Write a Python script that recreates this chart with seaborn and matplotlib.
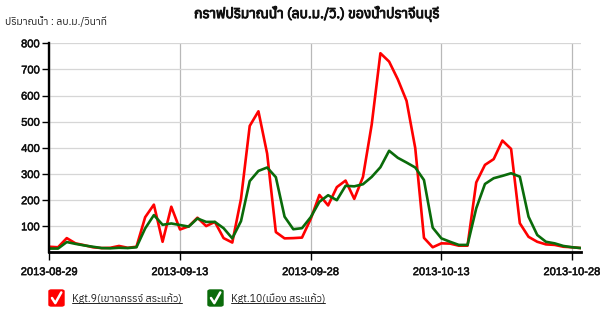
import matplotlib
matplotlib.use("Agg")
import numpy as np
import pandas as pd
import seaborn as sns
import matplotlib.pyplot as plt
from matplotlib import font_manager
from matplotlib.ft2font import FT2Font
from matplotlib.lines import Line2D
from matplotlib.patches import FancyBboxPatch
import matplotlib.patheffects as pe

# ---------------- data ----------------
start_date = "2013-08-29"
n_days = 62
kgt9 = [22, 20, 55, 35, 28, 20, 17, 18, 25, 18,
        22, 135, 183, 41, 175, 88, 100, 133, 101, 117,
        55, 38, 205, 484, 540, 378, 78, 54, 55, 57,
        128, 220, 180, 250, 275, 205, 289, 489, 762, 730,
        662, 580, 399, 56, 20, 35, 34, 26, 26, 268,
        335, 357, 428, 396, 112, 60, 41, 31, 29, 22,
        20, 17]
kgt10 = [15, 15, 40, 33, 27, 22, 17, 16, 18, 17,
         20, 92, 143, 106, 111, 105, 99, 130, 117, 117,
         93, 54, 120, 273, 312, 325, 288, 137, 89, 93,
         135, 194, 219, 200, 255, 253, 261, 289, 326, 389,
         362, 344, 325, 277, 95, 54, 41, 29, 29, 169,
         262, 284, 293, 303, 290, 137, 67, 41, 35, 25,
         20, 17]
series_names = ["Kgt.9(เขาฉกรรจ์ สระแก้ว)", "Kgt.10(เมือง สระแก้ว)"]
series_colors = ["#ff0000", "#0a6b0a"]
x_tick_labels = ["2013-08-29", "2013-09-13", "2013-09-28", "2013-10-13", "2013-10-28"]
y_ticks = [100, 200, 300, 400, 500, 600, 700, 800]
title_text = "กราฟปริมาณน้ำ (ลบ.ม./วิ.) ของน้ำปราจีนบุรี"
ylabel_text = "ปริมาณน้ำ : ลบ.ม./วินาที"

dates = pd.date_range(start_date, periods=n_days, freq="D")
df = pd.concat([
    pd.DataFrame({"date": dates, "flow": kgt9, "station": series_names[0]}),
    pd.DataFrame({"date": dates, "flow": kgt10, "station": series_names[1]}),
])


def find_thai_font():
    cands = []
    for f in font_manager.fontManager.ttflist:
        try:
            cm = FT2Font(f.fname).get_charmap()
        except Exception:
            continue
        if 0x0E01 in cm and 0x0E49 in cm:
            score = 0
            n = f.name.lower()
            if "serif" in n and "sans" not in n:
                score += 5
            if "mono" in n:
                score += 3
            cands.append((score, f.name))
    cands.sort()
    return cands[0][1] if cands else "DejaVu Sans"


sns.set_theme(style="white")
thai = find_thai_font()
plt.rcParams["font.family"] = [thai, "Liberation Sans", "DejaVu Sans"]
tick_font = ["Liberation Sans", "DejaVu Sans"]

fig = plt.figure(figsize=(6.0, 3.13), dpi=100)
ax = fig.add_axes([0.0822, 0.1933, 0.8858, 0.6684])

sns.lineplot(data=df, x="date", y="flow", hue="station",
             palette=series_colors, linewidth=1.9, legend=False, ax=ax)

ax.set_xlim(dates[0], dates[-1])
ax.set_ylim(0, 800)
ax.set_yticks(y_ticks)
ax.set_yticklabels([str(v) for v in y_ticks], family=tick_font, fontsize=8)
xt = pd.to_datetime(x_tick_labels)
ax.set_xticks(xt)
ax.set_xticklabels(x_tick_labels, family=tick_font, fontsize=8)
ax.set_xlabel("")
ax.set_ylabel("")

ax.grid(True, axis="y", color="#d6d6d6", linewidth=0.9)
ax.grid(True, axis="x", color="#b8b8b8", linewidth=0.9)
ax.set_axisbelow(True)
for s in ["top", "right"]:
    ax.spines[s].set_visible(False)
ax.spines["left"].set_linewidth(1.7)
ax.spines["bottom"].set_linewidth(2.0)
ax.spines["left"].set_color("black")
ax.spines["bottom"].set_color("black")
ax.tick_params(axis="y", direction="out", length=5, width=1, pad=2, left=True, colors="black")
ax.tick_params(axis="x", direction="out", length=5.5, width=1, pad=5, bottom=True, colors="black")
for lbl in ax.get_xticklabels() + ax.get_yticklabels():
    lbl.set_color("#111111")
    lbl.set_path_effects([pe.withStroke(linewidth=0.35, foreground="#111111")])

fig.text(0.527, 0.955, title_text, ha="center", va="center", fontsize=10,
         fontweight="bold", color="#111111",
         path_effects=[pe.withStroke(linewidth=0.7, foreground="#111111")])
fig.text(0.009, 0.93, ylabel_text, ha="left", va="center", fontsize=7.5, color="#222222")

# legend (check boxes)
box_w, box_h = 15 / 600, 16 / 313
legend_x = [49 / 600, 208 / 600]
legend_y = 1 - 306 / 313
for i, (name, col) in enumerate(zip(series_names, series_colors)):
    x0 = legend_x[i]
    fig.add_artist(FancyBboxPatch((x0, legend_y), box_w, box_h,
                                  boxstyle="round,pad=0,rounding_size=0.004",
                                  transform=fig.transFigure, facecolor=col,
                                  edgecolor=col))
    cx = [x0 + box_w * 0.2, x0 + box_w * 0.42, x0 + box_w * 0.82]
    cy = [legend_y + box_h * 0.5, legend_y + box_h * 0.18, legend_y + box_h * 0.85]
    fig.add_artist(Line2D(cx, cy, transform=fig.transFigure, color="white",
                          linewidth=1.8, solid_capstyle="round", solid_joinstyle="round"))
    t = fig.text(x0 + box_w + 8 / 600, legend_y + box_h * 0.45, name,
                 ha="left", va="center", fontsize=7.5, color="#222222")
    fig.canvas.draw()
    bb = t.get_window_extent().transformed(fig.transFigure.inverted())
    fig.add_artist(Line2D([bb.x0, bb.x1], [bb.y0 + 0.004, bb.y0 + 0.004],
                          transform=fig.transFigure, color="#222222", linewidth=0.7))

fig.savefig("out.png", dpi=100)
